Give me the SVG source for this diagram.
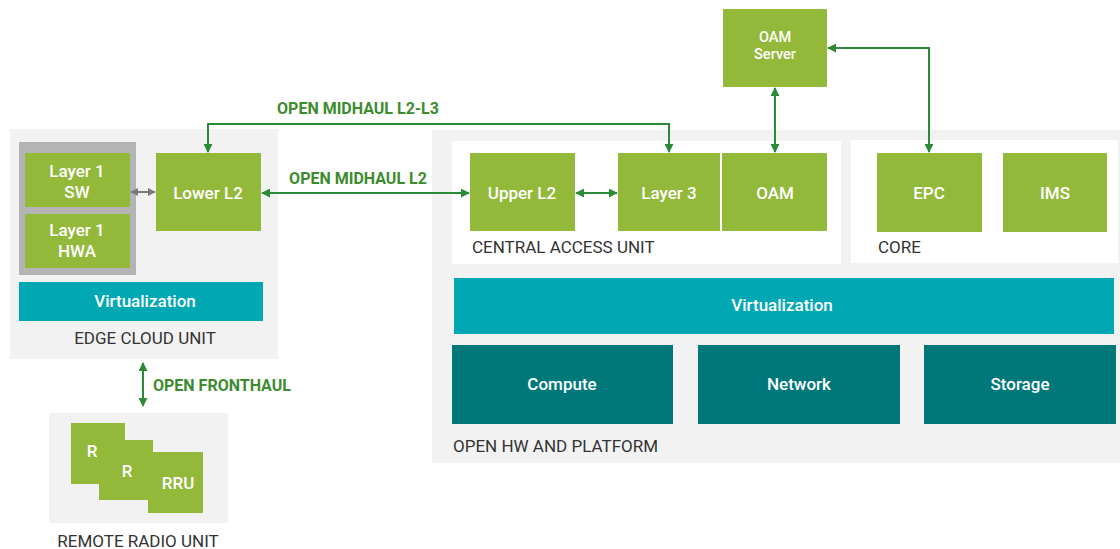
<svg xmlns="http://www.w3.org/2000/svg" width="1120" height="549" viewBox="0 0 1120 549">
<defs>
<style>
.bg{fill:#f2f2f2}
.panel{fill:#ffffff}
.g{fill:#93b93b}
.teal{fill:#00a8b4}
.dteal{fill:#00787a}
.nl{font-family:Roboto,"Liberation Sans",sans-serif;font-size:17px;font-weight:500;fill:#ffffff;text-anchor:middle}
.sm{font-size:14.5px}
.cap{font-family:Roboto,"Liberation Sans",sans-serif;font-size:17px;fill:#333333}
.lbl{font-family:Roboto,"Liberation Sans",sans-serif;font-size:16px;font-weight:700;fill:#3c8c2e}
.conn{fill:none;stroke:#2b8a38;stroke-width:2}
.connG{fill:none;stroke:#7a7a7a;stroke-width:2}
</style>
<marker id="ah" viewBox="0 0 10 10" refX="9" refY="5" markerWidth="9" markerHeight="9" markerUnits="userSpaceOnUse" orient="auto-start-reverse"><path d="M0,0 L10,5 L0,10 z" fill="#2b8a38"/></marker>
<marker id="ahg" viewBox="0 0 10 10" refX="9" refY="5" markerWidth="8" markerHeight="8" markerUnits="userSpaceOnUse" orient="auto-start-reverse"><path d="M0,0 L10,5 L0,10 z" fill="#7a7a7a"/></marker>
</defs>
<rect width="1120" height="549" fill="#ffffff"/>

<g id="edge-cloud-unit">
<rect class="bg" x="10" y="129" width="268" height="230"/>
<rect x="19" y="142" width="117" height="133" fill="#b4b4b4"/>
<text class="cap" x="145" y="344" text-anchor="middle">EDGE CLOUD UNIT</text>
</g>
<g id="layer1-sw">
<rect class="g" x="25" y="153" width="105" height="54"/>
<text class="nl" x="77" y="177">Layer 1</text>
<text class="nl" x="77" y="198">SW</text>
</g>
<g id="layer1-hwa">
<rect class="g" x="25" y="214" width="105" height="54"/>
<text class="nl" x="77" y="236">Layer 1</text>
<text class="nl" x="77" y="257">HWA</text>
</g>
<g id="lower-l2">
<rect class="g" x="156" y="153" width="105" height="78"/>
<text class="nl" x="208" y="199">Lower L2</text>
</g>
<g id="edge-virtualization">
<rect class="teal" x="19" y="282" width="244" height="39"/>
<text class="nl" x="145" y="307">Virtualization</text>
</g>

<g id="remote-radio-unit">
<rect class="bg" x="49" y="413" width="179" height="110"/>
<rect class="g" x="71" y="423" width="54" height="61"/>
<rect class="g" x="99" y="440" width="54" height="60"/>
<rect class="g" x="148" y="452" width="55" height="61"/>
<text class="nl" x="92" y="457">R</text>
<text class="nl" x="127" y="477">R</text>
<text class="nl" x="178" y="489">RRU</text>
<text class="cap" x="138" y="547" text-anchor="middle">REMOTE RADIO UNIT</text>
</g>

<g id="open-hw-platform">
<rect class="bg" x="432" y="130" width="688" height="333"/>
<text class="cap" x="453" y="452">OPEN HW AND PLATFORM</text>
</g>
<g id="central-access-unit">
<rect class="panel" x="452" y="141" width="389" height="123"/>
<text class="cap" x="472" y="253">CENTRAL ACCESS UNIT</text>
</g>
<g id="core">
<rect class="panel" x="851" y="140" width="267" height="123"/>
<text class="cap" x="878" y="253">CORE</text>
</g>
<g id="upper-l2">
<rect class="g" x="470" y="153" width="105" height="78"/>
<text class="nl" x="522" y="199">Upper L2</text>
</g>
<g id="layer-3">
<rect class="g" x="618" y="153" width="102" height="78"/>
<text class="nl" x="669" y="199">Layer 3</text>
</g>
<g id="oam">
<rect class="g" x="722" y="153" width="105" height="78"/>
<text class="nl" x="775" y="199">OAM</text>
</g>
<g id="epc">
<rect class="g" x="877" y="153" width="105" height="79"/>
<text class="nl" x="929" y="199">EPC</text>
</g>
<g id="ims">
<rect class="g" x="1003" y="153" width="104" height="79"/>
<text class="nl" x="1055" y="199">IMS</text>
</g>
<g id="oam-server">
<rect class="g" x="723" y="9" width="104" height="78"/>
<text class="nl sm" x="775" y="42">OAM</text>
<text class="nl sm" x="775" y="59">Server</text>
</g>
<g id="virtualization">
<rect class="teal" x="454" y="278" width="660" height="56"/>
<text class="nl" x="782" y="311">Virtualization</text>
</g>
<g id="compute">
<rect class="dteal" x="452" y="345" width="221" height="79"/>
<text class="nl" x="562" y="390">Compute</text>
</g>
<g id="network">
<rect class="dteal" x="698" y="345" width="202" height="79"/>
<text class="nl" x="799" y="390">Network</text>
</g>
<g id="storage">
<rect class="dteal" x="924" y="345" width="192" height="79"/>
<text class="nl" x="1020" y="390">Storage</text>
</g>

<g id="connectors">
<line class="connG" x1="131" y1="192" x2="155" y2="192" marker-start="url(#ahg)" marker-end="url(#ahg)"/>
<line class="conn" x1="262" y1="193" x2="469" y2="193" marker-start="url(#ah)" marker-end="url(#ah)"/>
<polyline class="conn" points="208,152 208,124 669,124 669,152" marker-start="url(#ah)" marker-end="url(#ah)"/>
<line class="conn" x1="576" y1="193" x2="617" y2="193" marker-start="url(#ah)" marker-end="url(#ah)"/>
<line class="conn" x1="775" y1="88" x2="775" y2="152" marker-start="url(#ah)" marker-end="url(#ah)"/>
<polyline class="conn" points="828,48 929,48 929,152" marker-start="url(#ah)" marker-end="url(#ah)"/>
<line class="conn" x1="143" y1="363" x2="143" y2="406" marker-start="url(#ah)" marker-end="url(#ah)"/>
<text class="lbl" x="358" y="114" text-anchor="middle">OPEN MIDHAUL L2-L3</text>
<text class="lbl" x="358" y="184" text-anchor="middle">OPEN MIDHAUL L2</text>
<text class="lbl" x="153" y="391">OPEN FRONTHAUL</text>
</g>
</svg>
